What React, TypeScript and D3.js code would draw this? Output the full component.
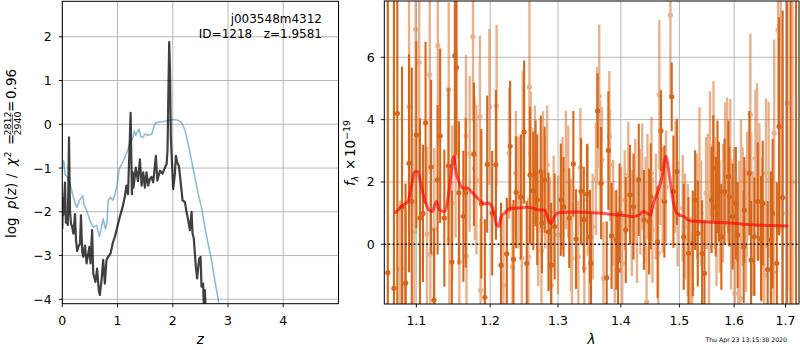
import React from 'react';
import * as d3 from 'd3';

// ---------- left panel data ----------
const pzZ = [0.0, 0.01, 0.018, 0.049, 0.065, 0.08, 0.1, 0.121, 0.14, 0.157, 0.18, 0.2, 0.23, 0.248, 0.27, 0.29, 0.32, 0.338, 0.36, 0.38, 0.41, 0.44, 0.49, 0.51, 0.54, 0.56, 0.6, 0.63, 0.66, 0.68, 0.71, 0.74, 0.77, 0.8, 0.83, 0.875, 0.91, 0.95, 0.995, 1.04, 1.09, 1.13, 1.16, 1.19, 1.237, 1.26, 1.275, 1.29, 1.33, 1.37, 1.405, 1.435, 1.465, 1.495, 1.525, 1.555, 1.586, 1.615, 1.646, 1.694, 1.72, 1.767, 1.815, 1.857, 1.888, 1.905, 1.92, 1.935, 1.95, 1.965, 1.978, 2.007, 2.038, 2.056, 2.08, 2.11, 2.14, 2.177, 2.22, 2.249, 2.28, 2.31, 2.34, 2.358, 2.38, 2.418, 2.44, 2.478, 2.503, 2.52, 2.55, 2.56, 2.58, 2.6, 2.62];
const pzLogp = [-2.4, -1.7, -2.08, -1.33, -2.25, -2.2, -2.3, -0.3, -2.0, -2.27, -2.35, -2.5, -2.05, -2.65, -2.9, -2.8, -2.73, -2.08, -2.9, -3.03, -2.77, -3.18, -2.8, -3.18, -2.42, -3.41, -3.6, -3.3, -3.79, -3.9, -3.56, -3.1, -3.64, -3.1, -3.03, -2.95, -2.73, -2.58, -2.35, -2.12, -1.9, -1.67, -1.4, -1.6, 0.26, -1.6, -1.1, -1.44, -0.99, -1.3, -0.8, -1.4, -1.1, -1.45, -1.1, -1.4, -1.25, -1.2, -1.33, -0.72, -1.29, -1.06, -1.13, -0.99, -0.91, -0.6, 0.7, 1.88, 1.2, -0.3, -0.68, -1.48, -1.14, -0.72, -0.87, -0.95, -1.29, -1.74, -1.78, -2.0, -2.2, -2.42, -2.0, -2.5, -2.6, -3.26, -3.52, -3.07, -3.03, -3.71, -3.64, -4.1, -3.79, -4.3, -4.6];

const chiZ = [0.0, 0.018, 0.03, 0.049, 0.09, 0.139, 0.2, 0.26, 0.31, 0.37, 0.39, 0.44, 0.5, 0.56, 0.62, 0.67, 0.71, 0.74, 0.78, 0.81, 0.83, 0.875, 0.91, 0.95, 0.995, 1.03, 1.1, 1.16, 1.22, 1.28, 1.3, 1.33, 1.35, 1.39, 1.42, 1.46, 1.5, 1.55, 1.586, 1.62, 1.673, 1.7, 1.857, 2.007, 2.1, 2.159, 2.22, 2.279, 2.34, 2.4, 2.46, 2.52, 2.58, 2.64, 2.7, 2.76, 2.82, 2.86];
const chiVal = [-1.0, -0.83, -0.85, -1.14, -1.2, -1.36, -1.67, -1.9, -1.74, -1.63, -1.82, -1.97, -2.2, -2.35, -2.31, -2.56, -2.35, -2.16, -2.39, -2.25, -1.74, -1.67, -1.74, -1.63, -1.36, -1.02, -0.85, -0.68, -0.45, -0.3, -0.15, -0.25, -0.19, -0.11, -0.28, -0.3, -0.22, -0.25, -0.24, -0.22, 0.0, 0.04, 0.07, 0.11, 0.09, 0.04, -0.13, -0.45, -0.83, -1.21, -1.59, -1.9, -2.35, -2.73, -3.1, -3.56, -3.98, -4.35];

const zTicks = [0, 1, 2, 3, 4];
const pTicks = [-4, -3, -2, -1, 0, 1, 2];

// ---------- right panel data ----------
const darkLam = [1.0636, 1.0713, 1.0756, 1.0816, 1.0861, 1.0906, 1.0941, 1.1000, 1.1047, 1.1086, 1.1120, 1.1193, 1.1231, 1.1279, 1.1313, 1.1369, 1.1424, 1.1470, 1.1511, 1.1534, 1.1566, 1.1627, 1.1659, 1.1773, 1.1876, 1.1925, 1.1958, 1.2029, 1.2082, 1.2155, 1.2238, 1.2286, 1.2335, 1.2373, 1.2442, 1.2490, 1.2529, 1.2577, 1.2627, 1.2660, 1.2685, 1.2738, 1.2755, 1.2796, 1.2854, 1.2894, 1.2948, 1.3043, 1.3085, 1.3173, 1.3237, 1.3279, 1.3358, 1.3401, 1.3453, 1.3500, 1.3516, 1.3621, 1.3678, 1.3768, 1.3795, 1.3847, 1.3926, 1.3953, 1.3978, 1.4081, 1.4151, 1.4210, 1.4298, 1.4386, 1.4474, 1.4502, 1.4619, 1.4677, 1.4737, 1.4865, 1.4895, 1.4958, 1.5077, 1.5162, 1.5239, 1.5281, 1.5329, 1.5407, 1.5450, 1.5581, 1.5612, 1.5658, 1.5689, 1.5716, 1.5761, 1.5820, 1.5892, 1.5910, 1.5971, 1.6033, 1.6066, 1.6182, 1.6193, 1.6290, 1.6323, 1.6387, 1.6453, 1.6516, 1.6549, 1.6646, 1.6710, 1.6743, 1.6826, 1.6870, 1.6942, 1.7030, 1.7100, 1.7211];
const darkFlux = [-0.91, -1.41, 4.2, 1.2, -1.25, 2.6, 1.37, 3.51, 0.84, 0.99, 3.9, 2.48, -1.79, 2.07, 3.48, 0.84, 2.52, -0.57, 6.05, 5.67, 1.65, 0.9, 1.65, 2.89, 1.3, -1.7, 2.57, 1.0, 2.55, -0.67, -0.31, 3.15, -0.48, 1.67, 1.52, 3.6, -0.61, 2.22, 1.72, 2.27, 1.43, 2.33, 0.68, 2.07, 0.4, -0.67, 0.57, 1.43, 1.2, 0.84, 2.58, 0.17, 1.7, 0.79, 1.61, 0.24, -0.61, 4.28, 1.96, -1.07, 3.01, 0.27, 0.14, -0.83, 1.0, 0.46, 1.59, 1.21, 2.07, 0.78, 0.73, 1.53, 0.08, 3.64, 1.37, 4.73, 1.69, 2.33, 0.24, -0.29, 0.03, 1.42, 0.35, -0.29, -0.93, 1.42, 2.44, 1.21, 2.17, 1.69, 0.24, 1.69, 2.17, 1.53, 0.89, 1.32, 0.3, -0.08, 1.1, 2.28, -0.5, 0.24, 1.37, 0.19, 1.32, -0.81, 0.14, 0.99, -0.61, 3.78, 1.5, 9.0, -3.0, 8.5];
const darkErr = [12, 12, 9, 4.5, 3.2, 3.5, 4.3, 3.0, 3.2, 2.2, 2.6, 2.8, 2.3, 2.4, 2.8, 2.2, 2.5, 2.3, 3.5, 2.8, 2.3, 2.1, 2.4, 2.3, 2.4, 2.5, 2.2, 2.0, 2.4, 2.0, 1.8, 2.1, 1.9, 1.8, 2.0, 2.3, 2.0, 2.2, 1.9, 1.7, 2.1, 1.8, 1.6, 1.7, 1.9, 2.0, 1.7, 1.8, 1.6, 1.6, 1.7, 1.6, 1.7, 1.7, 1.6, 1.5, 1.6, 1.2, 1.8, 1.8, 1.9, 1.7, 1.6, 1.8, 1.6, 1.7, 1.6, 1.7, 1.8, 1.6, 1.7, 1.7, 1.8, 1.3, 1.8, 1.1, 1.8, 1.7, 1.7, 1.8, 1.7, 1.6, 1.7, 1.7, 1.7, 1.7, 1.7, 1.6, 1.8, 1.6, 1.7, 1.7, 1.8, 1.6, 1.7, 1.8, 1.7, 1.8, 1.7, 2.0, 1.9, 1.9, 1.9, 2.0, 2.0, 2.2, 2.2, 2.4, 2.6, 3.5, 6, 12, 12, 12];

const lightLam = [1.0791, 1.0851, 1.0864, 1.0906, 1.0975, 1.0990, 1.1037, 1.1138, 1.1175, 1.1183, 1.1235, 1.1282, 1.1428, 1.1437, 1.1475, 1.1521, 1.1572, 1.1663, 1.1670, 1.1714, 1.1760, 1.1783, 1.1807, 1.1856, 1.1866, 1.1990, 1.2092, 1.2190, 1.2271, 1.2321, 1.2369, 1.2408, 1.2456, 1.2471, 1.2554, 1.2569, 1.2588, 1.2602, 1.2650, 1.2700, 1.2748, 1.2773, 1.2806, 1.2835, 1.2879, 1.2898, 1.2933, 1.3000, 1.3069, 1.3121, 1.3158, 1.3200, 1.3216, 1.3315, 1.3347, 1.3410, 1.3464, 1.3489, 1.3542, 1.3595, 1.3612, 1.3647, 1.3662, 1.3689, 1.3716, 1.3811, 1.3823, 1.3874, 1.3899, 1.4005, 1.4023, 1.4063, 1.4123, 1.4181, 1.4239, 1.4268, 1.4326, 1.4356, 1.4414, 1.4431, 1.4446, 1.4514, 1.4531, 1.4589, 1.4631, 1.4649, 1.4667, 1.4707, 1.4765, 1.4842, 1.4930, 1.4970, 1.5059, 1.5101, 1.5149, 1.5198, 1.5227, 1.5317, 1.5360, 1.5389, 1.5479, 1.5509, 1.5533, 1.5551, 1.5616, 1.5640, 1.5671, 1.5730, 1.5792, 1.5833, 1.5869, 1.5885, 1.5928, 1.5941, 1.6000, 1.6014, 1.6077, 1.6097, 1.6116, 1.6130, 1.6162, 1.6226, 1.6246, 1.6309, 1.6326, 1.6356, 1.6406, 1.6439, 1.6484, 1.6536, 1.6580, 1.6613, 1.6665, 1.6762, 1.6774, 1.6851, 1.6903, 1.6936, 1.7034, 1.7140];
const lightFlux = [-0.8, -0.77, -1.23, 4.41, 0.41, 6.89, 5.84, 0.33, 5.44, -0.31, 0.49, 6.38, 4.96, 0.14, 1.32, 2.82, -0.56, 3.48, -0.38, 2.9, 6.66, 2.44, 2.07, 4.1, -1.47, 4.41, 4.44, -1.31, 2.92, -0.72, 2.28, 1.66, -0.45, 3.46, -0.4, 5.05, 2.9, 1.85, 2.55, 0.46, -0.2, 2.37, 1.66, 2.55, 0.35, -1.31, 1.05, 0.3, 1.64, 2.39, 2.01, 0.3, -0.45, -0.4, 2.47, -0.77, 1.43, -0.24, 0.57, 2.1, 3.78, 4.75, 2.82, 2.71, -1.09, 3.46, 2.55, 1.0, -0.08, 0.78, -0.61, 1.42, 2.23, 0.68, 1.69, 0.46, 1.37, 2.17, 1.1, -1.85, 1.85, 2.28, 0.46, 1.21, -0.29, 4.8, 2.52, 1.42, 1.85, 7.35, 2.17, 0.99, 1.16, 0.57, 0.14, -0.93, -1.42, 1.21, 2.5, 0.99, 1.64, 1.75, -0.08, 2.91, 3.14, 1.64, 0.46, 0.89, 1.32, 2.55, 2.71, 1.85, 2.66, 0.35, 1.21, -1.58, -0.5, 0.78, -1.74, 2.01, 1.21, 0.46, 1.61, 4.16, 1.59, 0.35, 2.76, 2.87, 1.69, 0.46, -0.99, 2.28, 2.07, -0.9, 3.57, 6.87, 4.85, 0.99, 4.53, 2.0];
const lightErr = [2.2, 2.0, 2.3, 4.0, 3.0, 3.5, 3.5, 2.8, 3.2, 2.5, 2.6, 3.2, 2.8, 2.4, 2.5, 2.6, 2.3, 2.6, 2.3, 2.5, 2.7, 2.3, 2.4, 2.6, 2.3, 2.5, 2.6, 2.2, 2.1, 2.0, 2.0, 1.8, 2.0, 2.1, 1.9, 2.8, 2.0, 1.9, 1.9, 1.8, 1.9, 1.9, 1.8, 1.9, 1.8, 2.1, 1.8, 1.9, 1.8, 1.9, 1.8, 1.8, 1.8, 1.8, 1.9, 1.9, 1.8, 1.7, 1.7, 1.8, 1.9, 2.3, 1.8, 1.7, 1.8, 2.1, 1.8, 1.7, 1.8, 1.7, 1.7, 1.6, 1.7, 1.7, 1.7, 1.7, 1.7, 1.7, 1.7, 1.8, 1.7, 1.8, 1.7, 1.7, 1.8, 2.4, 1.9, 1.7, 1.8, 2.6, 1.8, 1.7, 1.7, 1.7, 1.8, 1.8, 1.8, 1.7, 1.9, 1.7, 1.8, 1.8, 1.9, 2.0, 2.1, 1.8, 1.8, 1.8, 1.9, 2.0, 2.0, 1.8, 2.0, 1.8, 1.9, 2.2, 1.9, 1.9, 2.3, 2.0, 1.9, 2.0, 2.0, 2.6, 2.0, 2.0, 2.2, 2.3, 2.2, 2.3, 2.4, 2.4, 2.5, 2.6, 3.0, 3.0, 4.5, 5.0, 6.0, 12];

const modelLam = [1.0735, 1.0828, 1.0892, 1.0935, 1.0978, 1.1021, 1.1065, 1.1108, 1.1164, 1.1209, 1.1262, 1.1306, 1.1372, 1.1440, 1.1493, 1.1530, 1.1575, 1.1620, 1.1688, 1.1735, 1.1804, 1.1874, 1.1920, 1.1976, 1.2037, 1.2085, 1.2122, 1.2157, 1.2204, 1.2286, 1.2373, 1.2520, 1.2618, 1.2718, 1.2792, 1.2868, 1.2894, 1.2944, 1.3020, 1.3226, 1.3435, 1.3755, 1.4082, 1.4192, 1.4304, 1.4372, 1.4445, 1.4503, 1.4530, 1.4616, 1.4702, 1.4761, 1.4819, 1.4876, 1.4936, 1.4994, 1.5083, 1.5172, 1.5351, 1.5778, 1.6410, 1.7032];
const modelFlux = [1.02, 1.26, 1.37, 1.85, 2.33, 2.33, 1.85, 1.42, 1.10, 1.05, 1.37, 1.10, 1.05, 1.85, 2.82, 2.28, 1.96, 1.80, 1.80, 1.69, 1.53, 1.37, 1.30, 1.32, 1.16, 0.67, 0.57, 0.89, 0.99, 1.16, 1.16, 1.19, 1.16, 1.10, 1.10, 0.73, 0.67, 0.89, 1.02, 1.04, 1.03, 0.98, 0.92, 0.89, 0.94, 1.05, 0.99, 0.94, 1.21, 1.64, 2.22, 2.82, 2.28, 1.53, 1.05, 0.94, 0.89, 0.76, 0.73, 0.70, 0.62, 0.59];

const lamTicks = [1.1, 1.2, 1.3, 1.4, 1.5, 1.6, 1.7];
const fluxTicks = [0, 2, 4, 6];

const FONT = "'DejaVu Sans', 'Liberation Sans', sans-serif";
const ORANGE = '#d5661a';
const GRID = '#b0b0b0';

const fmt = (v: number) => (v < 0 ? '\u2212' + Math.abs(v) : String(v));

export default function App() {
  const W = 800, H = 350;
  const L = { x0: 62.3, x1: 338.5, y0: 1.3, y1: 303.7 };
  const R = { x0: 384.3, x1: 799, y0: 1, y1: 304 };

  const xz = d3.scaleLinear().domain([0, 5]).range([L.x0, L.x1]);
  const yp = d3.scaleLinear().domain([-4.1, 2.81]).range([L.y1, L.y0]);
  const xl = d3.scaleLog().domain([1.0592, 1.7272]).range([R.x0, R.x1]);
  const yf = d3.scaleLinear().domain([-1.915, 7.805]).range([R.y1, R.y0]);

  const pzLine = d3.line<number>().x((_, i) => xz(pzZ[i])).y((d) => yp(d));
  const chiLine = d3.line<number>().x((_, i) => xz(chiZ[i])).y((d) => yp(d));
  const modelLine = d3.line<number>().x((_, i) => xl(modelLam[i])).y((d) => yf(d)).curve(d3.curveMonotoneX);

  const tickFs = 12.5;
  const labFs = 13.5;

  return (
    <svg width={W} height={H} viewBox={`0 0 ${W} ${H}`} style={{ position: 'absolute', left: 0, top: 0, background: '#fff' }} fontFamily={FONT}>
      <defs>
        <clipPath id="clipL"><rect x={L.x0} y={L.y0} width={L.x1 - L.x0} height={L.y1 - L.y0} /></clipPath>
        <clipPath id="clipR"><rect x={R.x0} y={R.y0} width={R.x1 - R.x0} height={R.y1 - R.y0} /></clipPath>
      </defs>
      <rect x={0} y={0} width={W} height={H} fill="#fff" />

      {/* ---------- LEFT PANEL ---------- */}
      <g>
        {zTicks.map((t) => (
          <line key={'gz' + t} x1={xz(t)} x2={xz(t)} y1={L.y0} y2={L.y1} stroke={GRID} strokeWidth={0.9} />
        ))}
        {pTicks.map((t) => (
          <line key={'gp' + t} x1={L.x0} x2={L.x1} y1={yp(t)} y2={yp(t)} stroke={GRID} strokeWidth={0.9} />
        ))}
        <g clipPath="url(#clipL)">
          <path d={chiLine(chiVal) || ''} fill="none" stroke="#1f77b4" strokeOpacity={0.5} strokeWidth={1.6} strokeLinejoin="round" />
          <path d={pzLine(pzLogp) || ''} fill="none" stroke="#000" strokeOpacity={0.75} strokeWidth={2.2} strokeLinejoin="round" />
        </g>
        <rect x={L.x0} y={L.y0} width={L.x1 - L.x0} height={L.y1 - L.y0} fill="none" stroke="#000" strokeWidth={1} />
        {zTicks.map((t) => (
          <g key={'tz' + t}>
            <line x1={xz(t)} x2={xz(t)} y1={L.y1} y2={L.y1 + 3.5} stroke="#000" strokeWidth={0.9} />
            <text x={xz(t)} y={325} fontSize={tickFs} textAnchor="middle">{fmt(t)}</text>
          </g>
        ))}
        {pTicks.map((t) => (
          <g key={'tp' + t}>
            <line x1={L.x0 - 3.5} x2={L.x0} y1={yp(t)} y2={yp(t)} stroke="#000" strokeWidth={0.9} />
            <text x={L.x0 - 10.5} y={yp(t)} dy="0.36em" fontSize={tickFs} textAnchor="end">{fmt(t)}</text>
          </g>
        ))}
        <text x={xz(2.5)} y={344} fontSize={labFs} textAnchor="middle" fontStyle="italic">z</text>
        {/* y label: log p(z) / chi^2 = 2812/2940 = 0.96 */}
        <g transform="translate(16,238) rotate(-90)" fontSize={labFs}>
          <text x={0} y={0}>log</text>
          <text x={29} y={0}><tspan fontStyle="italic">p</tspan>(<tspan fontStyle="italic">z</tspan>)</text>
          <text x={60} y={0}>/</text>
          <text x={72} y={0} fontStyle="italic">χ</text>
          <text x={80.5} y={-5.5} fontSize={9.5}>2</text>
          <text x={93} y={0}>=</text>
          <text x={114.5} y={-5} fontSize={9.5} textAnchor="middle">2812</text>
          <line x1={105.5} x2={123.5} y1={-3.6} y2={-3.6} stroke="#000" strokeWidth={0.7} />
          <text x={114.5} y={4.5} fontSize={9.5} textAnchor="middle">2940</text>
          <text x={126} y={0}>=</text>
          <text x={139} y={0}>0.96</text>
        </g>
        <text x={322} y={23.3} fontSize={12} textAnchor="end">j003548m4312</text>
        <text x={322} y={38.3} fontSize={12} textAnchor="end" style={{ whiteSpace: 'pre' }}>{'ID=1218   z=1.9581'}</text>
      </g>

      {/* ---------- RIGHT PANEL ---------- */}
      <g>
        {lamTicks.map((t) => (
          <line key={'gl' + t} x1={xl(t)} x2={xl(t)} y1={R.y0} y2={R.y1} stroke={GRID} strokeWidth={0.9} />
        ))}
        {fluxTicks.map((t) => (
          <line key={'gf' + t} x1={R.x0} x2={R.x1} y1={yf(t)} y2={yf(t)} stroke={GRID} strokeWidth={0.9} />
        ))}
        <g clipPath="url(#clipR)">
          <g opacity={0.5}>
            {lightLam.map((l, i) => (
              <line key={'le' + i} x1={xl(l)} x2={xl(l)} y1={yf(lightFlux[i] - lightErr[i])} y2={yf(lightFlux[i] + lightErr[i])} stroke={ORANGE} strokeWidth={2.4} />
            ))}
            {lightLam.map((l, i) => (
              <circle key={'lp' + i} cx={xl(l)} cy={yf(lightFlux[i])} r={2.6} fill={ORANGE} />
            ))}
          </g>
          <g>
            {darkLam.map((l, i) => (
              <line key={'de' + i} x1={xl(l)} x2={xl(l)} y1={yf(darkFlux[i] - darkErr[i])} y2={yf(darkFlux[i] + darkErr[i])} stroke={ORANGE} strokeWidth={2.1} />
            ))}
            {darkLam.map((l, i) => (
              <circle key={'dp' + i} cx={xl(l)} cy={yf(darkFlux[i])} r={2.6} fill={ORANGE} />
            ))}
          </g>
          <path d={modelLine(modelFlux) || ''} fill="none" stroke="#ff0000" strokeOpacity={0.65} strokeWidth={3} strokeLinejoin="round" strokeLinecap="round" />
          <line x1={R.x0} x2={R.x1} y1={yf(0)} y2={yf(0)} stroke="#000" strokeWidth={1.6} strokeDasharray="1.6 2.6" />
        </g>
        <rect x={R.x0} y={R.y0} width={R.x1 - R.x0} height={R.y1 - R.y0} fill="none" stroke="#000" strokeWidth={1} />
        {lamTicks.map((t) => (
          <g key={'tl' + t}>
            <line x1={xl(t)} x2={xl(t)} y1={R.y1} y2={R.y1 + 3.5} stroke="#000" strokeWidth={0.9} />
            <text x={xl(t)} y={325} fontSize={tickFs} textAnchor="middle">{t.toFixed(1)}</text>
          </g>
        ))}
        {fluxTicks.map((t) => (
          <g key={'tf' + t}>
            <line x1={R.x0 - 3.5} x2={R.x0} y1={yf(t)} y2={yf(t)} stroke="#000" strokeWidth={0.9} />
            <text x={R.x0 - 9.5} y={yf(t)} dy="0.36em" fontSize={tickFs} textAnchor="end">{fmt(t)}</text>
          </g>
        ))}
        <text x={591.5} y={344} fontSize={labFs} textAnchor="middle" fontStyle="italic">λ</text>
        <g transform="translate(355,186) rotate(-90)" fontSize={labFs}>
          <text x={0} y={0} fontStyle="italic">f</text>
          <text x={4.5} y={3} fontSize={9.5} fontStyle="italic">λ</text>
          <text x={16} y={0}>×</text>
          <text x={29} y={0}>10</text>
          <text x={46} y={-5.5} fontSize={9.5}>{'\u221219'}</text>
        </g>
        <text x={787} y={342} fontSize={6.2} textAnchor="end">Thu Apr 23 13:15:38 2020</text>
      </g>
    </svg>
  );
}
